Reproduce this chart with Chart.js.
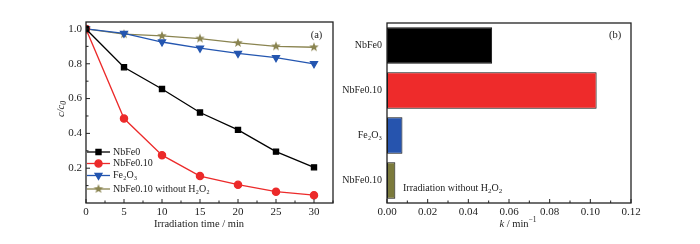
<!DOCTYPE html>
<html>
<head>
<meta charset="utf-8">
<script src="https://cdn.jsdelivr.net/npm/chart.js@4"></script>
<style>
  html, body { margin: 0; padding: 0; background: #fff; }
  #wrap { position: relative; width: 700px; height: 244px; background: #fff; }
  #kinetics { position: absolute; left: 0; top: 0; }
  #rates { position: absolute; left: 335px; top: 0; }
</style>
</head>
<body>
<div id="wrap">
  <canvas id="kinetics" width="350" height="244"></canvas>
  <canvas id="rates" width="365" height="244"></canvas>
</div>
<script>
// (a) c/c0 vs irradiation time
const times = [0, 5, 10, 15, 20, 25, 30];
const seriesNames = ['NbFe0', 'NbFe0.10', 'Fe\u2082O\u2083', 'NbFe0.10 without H\u2082O\u2082'];
const nbfe0 = [1.0, 0.78, 0.655, 0.52, 0.42, 0.295, 0.205];
const nbfe010 = [1.0, 0.485, 0.275, 0.155, 0.105, 0.065, 0.045];
const fe2o3 = [1.0, 0.975, 0.925, 0.89, 0.86, 0.835, 0.80];
const noH2O2 = [1.0, 0.97, 0.96, 0.945, 0.92, 0.90, 0.895];

// (b) rate constants k / min-1
const rateLabels = ['NbFe0', 'NbFe0.10', 'Fe\u2082O\u2083', 'NbFe0.10'];
const rateValues = [0.0517, 0.1031, 0.0076, 0.0041];

const FONT = 'Liberation Serif';
const colors = ['#000000', '#ec2a2a', '#2456b0', '#8a8450'];
const barColors = ['#000000', '#ee2b2b', '#2654ae', '#7b7a3c'];

// filled five-point star for the last series
function starImage(color, r) {
  const c = document.createElement('canvas');
  c.width = c.height = r * 2 + 2;
  const g = c.getContext('2d');
  g.fillStyle = color;
  g.beginPath();
  for (let i = 0; i < 10; i++) {
    const rr = i % 2 === 0 ? r : r * 0.42;
    const a = -Math.PI / 2 + i * Math.PI / 5;
    const px = r + 1 + rr * Math.cos(a), py = r + 1 + rr * Math.sin(a);
    i === 0 ? g.moveTo(px, py) : g.lineTo(px, py);
  }
  g.closePath();
  g.fill();
  return c;
}
const star = starImage(colors[3], 5);

const pts = arr => arr.map((v, i) => ({ x: times[i], y: v }));

// box, inward ticks and free text
const framePlugin = {
  id: 'frame',
  afterDraw(chart, args, opts) {
    const ctx = chart.ctx, a = chart.chartArea;
    ctx.save();
    ctx.strokeStyle = '#222';
    ctx.lineWidth = 1.3;
    ctx.strokeRect(a.left, a.top, a.right - a.left, a.bottom - a.top);
    ctx.lineWidth = 1;
    (opts.ticks || []).forEach(t => {
      const s = chart.scales[t.id];
      for (let v = t.min; v <= t.max + 1e-9; v += t.step) {
        const major = Math.abs(v / t.major - Math.round(v / t.major)) < 1e-6;
        const len = major ? 4 : 2.5;
        const p = s.getPixelForValue(v);
        ctx.beginPath();
        if (t.axis === 'x') { ctx.moveTo(p, a.bottom); ctx.lineTo(p, a.bottom - len); }
        else { ctx.moveTo(a.left, p); ctx.lineTo(a.left + len, p); }
        ctx.stroke();
      }
    });
    ctx.fillStyle = '#222';
    (opts.texts || []).forEach(t => {
      ctx.save();
      ctx.translate(t.x, t.y);
      if (t.rotate) ctx.rotate(t.rotate);
      ctx.textBaseline = 'middle';
      const parts = t.parts;
      let w = 0;
      parts.forEach(p => { ctx.font = p[1] + ' ' + FONT; w += ctx.measureText(p[0]).width; });
      let x = t.align === 'left' ? 0 : -w / 2;
      parts.forEach(p => {
        ctx.font = p[1] + ' ' + FONT;
        ctx.textAlign = 'left';
        ctx.fillText(p[0], x, p[2] || 0);
        x += ctx.measureText(p[0]).width;
      });
      ctx.restore();
    });
    ctx.restore();
  }
};

// legend inside the plot, bottom-left
const legendPlugin = {
  id: 'innerLegend',
  afterDraw(chart, args, opts) {
    if (!opts.rows) return;
    const ctx = chart.ctx;
    ctx.save();
    chart.data.datasets.forEach((ds, i) => {
      const y = opts.rows[i];
      ctx.strokeStyle = ds.borderColor;
      ctx.fillStyle = ds.pointBackgroundColor;
      ctx.lineWidth = 1.3;
      ctx.beginPath();
      ctx.moveTo(opts.x0, y); ctx.lineTo(opts.x1, y);
      ctx.stroke();
      Chart.helpers.drawPoint(ctx, {
        pointStyle: ds.pointStyle, rotation: ds.pointRotation || 0,
        radius: ds.pointRadius, borderWidth: 1
      }, (opts.x0 + opts.x1) / 2, y);
      ctx.fillStyle = '#222';
      ctx.font = '10px ' + FONT;
      ctx.textBaseline = 'middle';
      ctx.textAlign = 'left';
      ctx.fillText(ds.label, opts.x1 + 3, y);
    });
    ctx.restore();
  }
};

function lineSet(label, arr, color, style, radius, rot) {
  return {
    label: label, data: pts(arr), borderColor: color, backgroundColor: color,
    pointBackgroundColor: color, pointBorderColor: color, borderWidth: 1.3,
    pointStyle: style, pointRadius: radius, pointRotation: rot || 0, tension: 0
  };
}

const noGrid = { display: false, drawTicks: false };

new Chart(document.getElementById('kinetics'), {
  type: 'line',
  data: {
    datasets: [
      lineSet(seriesNames[0], nbfe0, colors[0], 'rect', 3.6),
      lineSet(seriesNames[1], nbfe010, colors[1], 'circle', 3.6),
      lineSet(seriesNames[2], fe2o3, colors[2], 'triangle', 4, 180),
      lineSet(seriesNames[3], noH2O2, colors[3], star, 5)
    ]
  },
  options: {
    responsive: false, animation: false,
    layout: { padding: { top: 22, right: 17, left: 0, bottom: 0 } },
    scales: {
      x: {
        type: 'linear', min: 0, max: 32.5,
        grid: noGrid, border: { display: false },
        ticks: { stepSize: 5, includeBounds: false, padding: 3, color: '#222', font: { family: FONT, size: 11 } },
        afterFit(s) { s.height = 41; }
      },
      y: {
        min: 0, max: 1.04,
        grid: noGrid, border: { display: false },
        ticks: {
          stepSize: 0.2, includeBounds: false, padding: 4, color: '#222',
          font: { family: FONT, size: 11 },
          callback: v => (v < 0.1 ? '' : v.toFixed(1))
        },
        afterFit(s) { s.width = 86; }
      }
    },
    plugins: {
      legend: { display: false }, tooltip: { enabled: false },
      innerLegend: { x0: 87, x1: 110, rows: [152, 163.5, 175.5, 189] },
      frame: {
        ticks: [
          { id: 'x', axis: 'x', min: 0, max: 32.5, step: 2.5, major: 5 },
          { id: 'y', axis: 'y', min: 0.1, max: 1.0, step: 0.1, major: 0.2 }
        ],
        texts: [
          { x: 316.5, y: 35, parts: [['(a)', '10.5px']] },
          { x: 199, y: 224, parts: [['Irradiation time / min', '10.5px']] },
          { x: 61, y: 109, rotate: -Math.PI / 2, parts: [['c/c', 'italic 10.5px'], ['0', 'italic 7.5px', 3]] }
        ]
      }
    }
  },
  plugins: [framePlugin, legendPlugin]
});

new Chart(document.getElementById('rates'), {
  type: 'bar',
  data: {
    labels: rateLabels,
    datasets: [{
      data: rateValues, backgroundColor: barColors, borderColor: '#111',
      borderWidth: 1, borderSkipped: false,
      categoryPercentage: 1, barPercentage: 0.81
    }]
  },
  options: {
    indexAxis: 'y', responsive: false, animation: false,
    layout: { padding: { top: 23, right: 69, left: 0, bottom: 0 } },
    scales: {
      x: {
        min: 0, max: 0.12,
        grid: noGrid, border: { display: false },
        ticks: { stepSize: 0.02, padding: 3, color: '#222', font: { family: FONT, size: 11 }, callback: v => v.toFixed(2) },
        afterFit(s) { s.height = 41; }
      },
      y: {
        grid: noGrid, border: { display: false },
        ticks: { padding: 5, color: '#222', font: { family: FONT, size: 10 } },
        afterFit(s) { s.width = 52; }
      }
    },
    plugins: {
      legend: { display: false }, tooltip: { enabled: false },
      frame: {
        ticks: [{ id: 'x', axis: 'x', min: 0, max: 0.12, step: 0.01, major: 0.02 }],
        texts: [
          { x: 280, y: 35, parts: [['(b)', '10.5px']] },
          { x: 68, y: 188, align: 'left', parts: [['Irradiation without H', '10px'], ['2', '7px', 3], ['O', '10px'], ['2', '7px', 3]] },
          { x: 183, y: 224, parts: [['k', 'italic 10.5px'], [' / min', '10.5px'], ['\u22121', '7.5px', -4]] }
        ]
      }
    }
  },
  plugins: [framePlugin]
});
</script>
</body>
</html>
